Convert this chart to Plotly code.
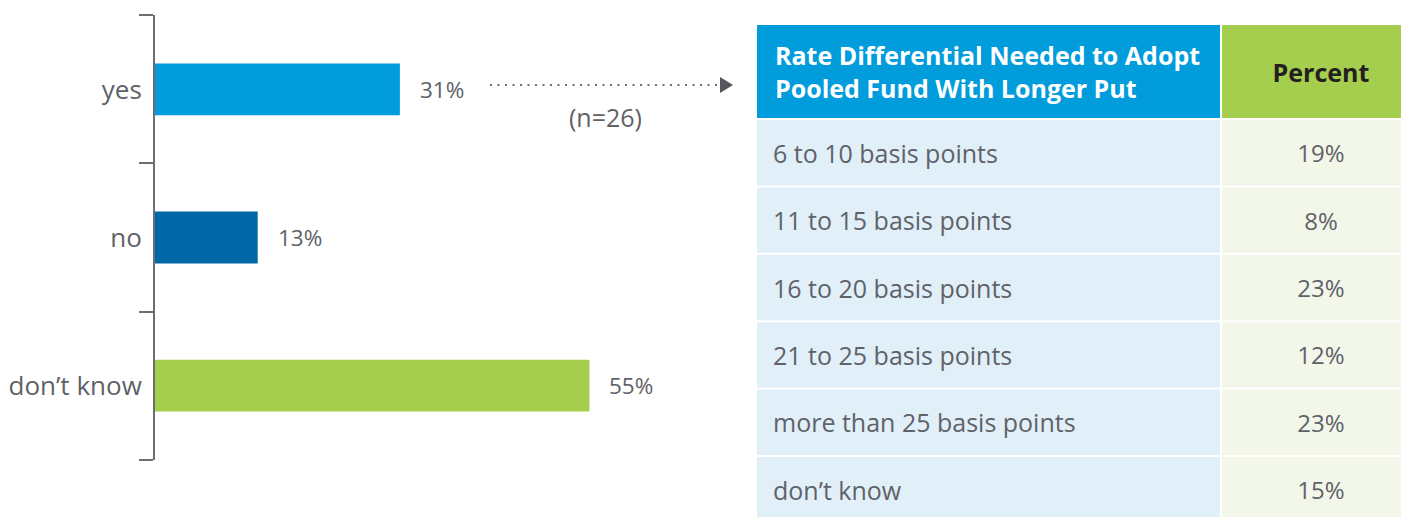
import plotly.graph_objects as go

# ---- data ----
bar_categories = ["yes", "no", "don\u2019t know"]
bar_values = [31, 13, 55]
bar_labels = ["31%", "13%", "55%"]

table_header = ["Rate Differential Needed to Adopt<br>Pooled Fund With Longer Put", "Percent"]
table_rows = ["6 to 10 basis points", "11 to 15 basis points", "16 to 20 basis points",
              "21 to 25 basis points", "more than 25 basis points", "don\u2019t know"]
table_percents = ["19%", "8%", "23%", "12%", "23%", "15%"]
sample_note = "(n=26)"

# ---- styles / layout constants ----
W, H = 1401, 517
FONT = "Open Sans"
GRAY = "#5f6268"
AXIS = "#6d6e71"
bar_colors = ["#009cdc", "#0067a8", "#a5cd4e"]

HEAD_BLUE, HEAD_GREEN = "#009cdc", "#a5cd4e"
CELL_BLUE, CELL_GREEN = "#e1eff9", "#f3f7ea"

# table geometry (pixel units of the table axes)
TABLE_LEFT, TABLE_TOP = 757, 25
TABLE_W, TABLE_H = W - TABLE_LEFT, H - TABLE_TOP
COL1_W, COL2_W, GAP = 463, 198, 2
HEADER_H, ROW_PITCH = 95, 67.4
TEXT_PAD = 16


def px_x(x):
    return x / W


def px_y(y):
    return 1 - y / H


fig = go.Figure()

# ---- left bar chart ----
fig.add_trace(go.Bar(
    x=bar_values, y=bar_categories, orientation="h",
    marker=dict(color=bar_colors, line=dict(width=0)),
    width=0.35, showlegend=False, hoverinfo="skip",
))

for cat, val, lab in zip(bar_categories, bar_values, bar_labels):
    fig.add_annotation(x=val, y=cat, xref="x", yref="y", text=lab, showarrow=False,
                       xanchor="left", yanchor="middle", xshift=18,
                       font=dict(family=FONT, size=22.5, color=GRAY))

# ---- table (cells drawn as bars on their own axes) ----
n_rows = len(table_rows)
row_tops = [0] + [HEADER_H + i * ROW_PITCH for i in range(n_rows)]
row_heights = [HEADER_H] + [ROW_PITCH] * n_rows
centers = [t + (h - GAP) / 2 for t, h in zip(row_tops, row_heights)]
thick = [h - GAP for h in row_heights]

col1_text = [""] + ["\u00a0\u00a0" + r for r in table_rows]
col2_text = ["<b>" + table_header[1] + "</b>"] + table_percents
col1_fill = [HEAD_BLUE] + [CELL_BLUE] * n_rows
col2_fill = [HEAD_GREEN] + [CELL_GREEN] * n_rows
col2_font = ["#231f20"] + [GRAY] * n_rows
col2_size = [25] + [24] * n_rows

fig.add_trace(go.Bar(
    x=[COL1_W] * (n_rows + 1), base=0, y=centers, width=thick, orientation="h",
    xaxis="x2", yaxis="y2", marker=dict(color=col1_fill, line=dict(width=0)),
    text=col1_text, textposition="inside", insidetextanchor="start", textangle=0,
    insidetextfont=dict(family=FONT, size=25, color=GRAY),
    showlegend=False, hoverinfo="skip", cliponaxis=True,
))
fig.add_trace(go.Bar(
    x=[COL2_W] * (n_rows + 1), base=COL1_W + GAP, y=centers, width=thick, orientation="h",
    xaxis="x2", yaxis="y2", marker=dict(color=col2_fill, line=dict(width=0)),
    text=col2_text, textposition="inside", insidetextanchor="middle", textangle=0,
    insidetextfont=dict(family=FONT, size=col2_size, color=col2_font),
    showlegend=False, hoverinfo="skip", cliponaxis=True,
))

# left header cell text (two left-aligned lines)
fig.add_annotation(x=TEXT_PAD, y=centers[0], xref="x2", yref="y2",
                   text="<b>" + table_header[0] + "</b>", showarrow=False,
                   xanchor="left", yanchor="middle", align="left",
                   font=dict(family=FONT, size=25, color="white"))

# ---- dotted connector with arrowhead ----
yline = px_y(85)
fig.add_shape(type="line", xref="paper", yref="paper", x0=px_x(490), x1=px_x(717), y0=yline, y1=yline,
              line=dict(color="#6d6e71", width=2, dash="2px,5.5px"))
fig.add_shape(type="path", xref="paper", yref="paper",
              path=f"M {px_x(720)} {px_y(77)} L {px_x(733)} {px_y(85)} L {px_x(720)} {px_y(93)} Z",
              fillcolor="#55575c", line=dict(width=0))
fig.add_annotation(x=px_x(605), y=px_y(117), xref="paper", yref="paper", text=sample_note,
                   showarrow=False, xanchor="center", yanchor="middle",
                   font=dict(family=FONT, size=25, color=GRAY))

fig.update_layout(
    width=W, height=H,
    margin=dict(l=0, r=0, t=0, b=0),
    paper_bgcolor="white", plot_bgcolor="rgba(0,0,0,0)",
    font=dict(family=FONT, color=GRAY),
    barmode="overlay",
    xaxis=dict(domain=[px_x(155), px_x(700)], range=[0, 69], visible=False, fixedrange=True),
    yaxis=dict(domain=[px_y(460), px_y(15)], type="category", categoryorder="array",
               categoryarray=bar_categories[::-1], range=[-0.503, 2.503],
               showline=True, linecolor=AXIS, linewidth=2,
               ticks="outside", tickson="boundaries", ticklen=14, tickwidth=2, tickcolor=AXIS,
               ticklabelstandoff=6,
               showgrid=False, zeroline=False,
               tickfont=dict(family=FONT, size=26, color=GRAY)),
    xaxis2=dict(domain=[px_x(TABLE_LEFT), 1], range=[0, TABLE_W], visible=False,
                anchor="y2", fixedrange=True),
    yaxis2=dict(domain=[0, px_y(TABLE_TOP)], range=[TABLE_H, 0], visible=False,
                anchor="x2", fixedrange=True),
)

fig.write_html("out.html", config={"displayModeBar": False},
               post_script="document.body.style.margin='0';")
